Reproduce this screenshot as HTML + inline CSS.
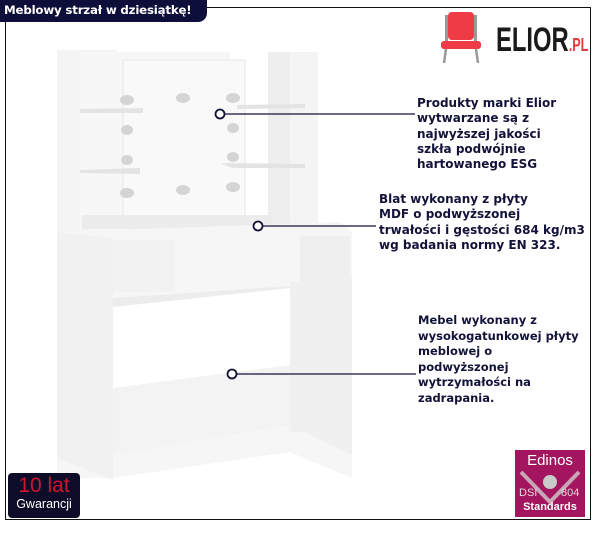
<!DOCTYPE html>
<html><head><meta charset="utf-8"><style>
html,body{margin:0;padding:0;background:#fff;}
body{width:601px;height:534px;position:relative;overflow:hidden;font-family:"DejaVu Sans","Liberation Sans",sans-serif;}
.frame{position:absolute;left:5px;top:7px;width:586px;height:513px;border:1.5px solid #111;box-sizing:border-box;}
.tab{position:absolute;left:0;top:0;width:207px;height:22px;background:#0e0e3a;border-bottom-right-radius:9px;color:#fff;font-weight:bold;font-size:11.8px;letter-spacing:-0.2px;line-height:21px;padding-left:4px;box-sizing:border-box;white-space:nowrap;}
.txt{position:absolute;color:#12123a;font-weight:bold;font-size:12px;line-height:15.3px;white-space:nowrap;}
.g{position:absolute;left:8px;top:473px;width:72px;height:45px;background:#0d0d2a;border-radius:4px;text-align:center;}
.g .a{color:#d0142c;font-family:"Liberation Sans",sans-serif;font-size:21px;line-height:22px;margin-top:2px;}
.g .b{color:#fff;font-family:"Liberation Sans",sans-serif;font-size:12.5px;line-height:14px;}
.e{position:absolute;left:515px;top:450px;width:70px;height:67px;background:#a3155e;color:#fff;font-family:"Liberation Sans",sans-serif;}
</style></head><body>
<svg width="601" height="534" style="position:absolute;left:0;top:0">
<rect x="57" y="50" width="60" height="185" fill="#f3f3f3"/>
<rect x="80" y="52" width="150" height="178" fill="#f7f7f7"/>
<rect x="268" y="52" width="50" height="180" fill="#eeeeee"/>
<rect x="290" y="52" width="28" height="180" fill="#f4f4f4"/>
<rect x="123" y="60" width="122" height="168" fill="#f9f9f9" stroke="#e2e2e2" stroke-width="0.8"/>
<rect x="82" y="215" width="190" height="14" fill="#ececec"/>
<polygon points="80,109 143,108 143,113 80,113" fill="#e3e3e3"/>
<polygon points="80,170 140,168 140,174 80,173" fill="#e3e3e3"/>
<polygon points="237,105 305,104 305,108 237,109" fill="#e3e3e3"/>
<polygon points="220,163 305,164 305,168 232,168" fill="#e3e3e3"/>
<g fill="#d4d4d4">
<ellipse cx="127" cy="100" rx="7" ry="5"/><ellipse cx="183" cy="98" rx="7" ry="5"/><ellipse cx="233" cy="98" rx="7" ry="5"/>
<ellipse cx="127" cy="130" rx="6" ry="5"/><ellipse cx="127" cy="160" rx="6" ry="5"/><ellipse cx="127" cy="193" rx="7" ry="5"/>
<ellipse cx="233" cy="128" rx="6" ry="5"/><ellipse cx="233" cy="157" rx="6" ry="5"/><ellipse cx="233" cy="187" rx="7" ry="5"/>
<ellipse cx="183" cy="190" rx="7" ry="5"/>
</g>
<polygon points="57,232 340,222 352,232 352,478 290,452 113,478 57,478" fill="#f6f6f6"/>
<polygon points="57,232 113,238 113,480 57,458" fill="#f1f1f1"/>
<rect x="113" y="240" width="62" height="52" fill="#f2f2f2"/>
<rect x="300" y="236" width="50" height="45" fill="#efefef"/>
<polygon points="113,298 352,282 352,290 113,307" fill="#ececec"/>
<polygon points="113,307 290,288 290,370 113,388" fill="#ffffff"/>
<polygon points="290,282 352,278 352,455 305,432 290,432" fill="#f0f0f0"/>
<polygon points="113,388 290,365 290,425 113,455" fill="#f3f3f3"/>
<g stroke="#12123a" stroke-width="1.3" fill="#fff">
<line x1="224" y1="114" x2="415" y2="114"/>
<line x1="262" y1="226" x2="376" y2="226"/>
<line x1="236" y1="374" x2="416" y2="374"/>
<circle cx="220" cy="114" r="4.5" stroke-width="1.8"/>
<circle cx="258" cy="226" r="4.5" stroke-width="1.8"/>
<circle cx="232" cy="374" r="4.5" stroke-width="1.8"/>
</g>
<g>
<rect x="448" y="12" width="26" height="28" rx="4" fill="#ee3b45"/>
<rect x="445" y="15" width="3" height="30" fill="#999"/><rect x="474" y="15" width="3" height="30" fill="#999"/>
<rect x="441" y="41" width="40" height="8" rx="3" fill="#ee3b45"/>
<line x1="446" y1="49" x2="444" y2="63" stroke="#999" stroke-width="2.5"/>
<line x1="476" y1="49" x2="478" y2="63" stroke="#999" stroke-width="2.5"/>
</g>
</svg>
<div class="frame"></div>
<div class="tab">Meblowy strzał w dziesiątkę!</div>
<div style="position:absolute;left:496px;top:22px;font-family:'Liberation Sans',sans-serif;font-weight:bold;font-size:34px;line-height:36px;color:#1a1a1a;transform:scaleX(0.7);transform-origin:0 0;white-space:nowrap;">ELIOR<span style="color:#e23a40;font-size:18px">.PL</span></div>
<div class="txt" style="left:417px;top:96px">Produkty marki Elior<br>wytwarzane są z<br>najwyższej jakości<br>szkła podwójnie<br>hartowanego ESG</div>
<div class="txt" style="left:379px;top:192px">Blat wykonany z płyty<br>MDF o podwyższonej<br>trwałości i gęstości 684 kg/m3<br>wg badania normy EN 323.</div>
<div class="txt" style="left:418px;top:313px;font-size:11.5px;line-height:15.5px">Mebel wykonany z<br>wysokogatunkowej płyty<br>meblowej o<br>podwyższonej<br>wytrzymałości na<br>zadrapania.</div>
<div class="g"><div class="a">10 lat</div><div class="b">Gwarancji</div></div>
<div class="e">
<div style="text-align:center;font-size:15px;line-height:17px;margin-top:2px">Edinos</div>
<svg width="70" height="40" style="position:absolute;left:0;top:18px"><polyline points="6,4 35,34 64,4" fill="none" stroke="#c9a5b8" stroke-width="4"/><circle cx="35" cy="14" r="7" fill="#c9c9c9"/></svg>
<div style="position:absolute;left:4px;top:37px;font-size:11px;color:#ddd">DSI</div>
<div style="position:absolute;left:46px;top:37px;font-size:11px;color:#ddd">804</div>
<div style="position:absolute;left:0;width:70px;top:51px;text-align:center;font-size:11px;font-weight:bold">Standards</div>
</div>
</body></html>
